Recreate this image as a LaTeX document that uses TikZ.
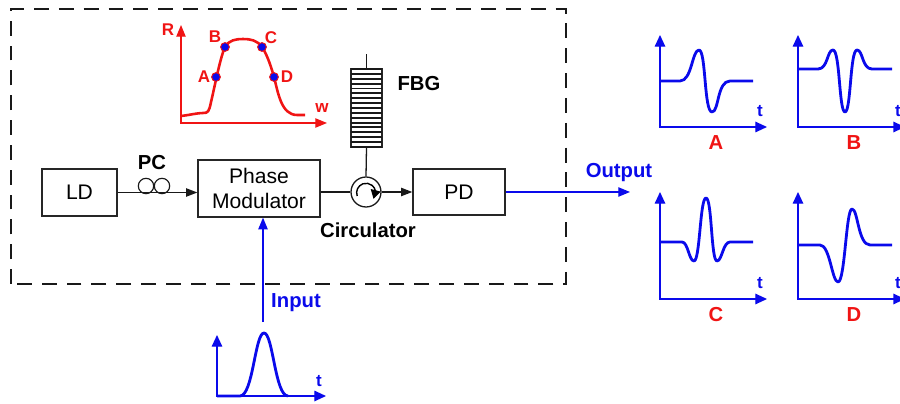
\documentclass[tikz,border=0pt]{standalone}
\usepackage{fontspec}
\setmainfont{Liberation Sans}
\usetikzlibrary{arrows.meta}
\definecolor{sigblue}{RGB}{10,10,235}
\definecolor{plotred}{RGB}{240,20,20}
\begin{document}
\begin{tikzpicture}[
    x=0.03cm, y=-0.03cm,
    boxnode/.style={draw=black!85, line width=1.1pt, rectangle, inner sep=0pt, font=\fontsize{18}{21.5}\selectfont, align=center},
    boldlabel/.style={font=\fontsize{17.3}{20}\selectfont\bfseries, inner sep=0pt},
    smalllabel/.style={font=\fontsize{14.5}{16}\selectfont\bfseries, inner sep=0pt},
    fiber/.style={draw=black!90, line width=1.1pt},
    fiberarr/.style={fiber, -{Triangle[length=9.5pt,width=7pt]}},
    sigline/.style={draw=sigblue, line width=1.1pt},
    sigarr/.style={sigline, -{Triangle[length=10pt,width=8pt]}},
    waveaxis/.style={draw=sigblue, line width=1.2pt, {Triangle[length=10pt,width=9pt]}-{Triangle[length=10pt,width=9pt]}},
    wave/.style={draw=sigblue, line width=2.4pt, line join=round},
    redaxis/.style={draw=plotred, line width=1pt, {Triangle[length=10pt,width=8pt]}-{Triangle[length=10pt,width=8pt]}},
    gratdot/.style={circle, draw=plotred, fill=sigblue, line width=0.8pt, minimum size=7.5pt, inner sep=0pt}
]
    \useasboundingbox (0,0) rectangle (900,404);

    % dashed enclosure
    \draw[black!90, line width=1.9pt, dash pattern=on 12.7pt off 8.5pt] (11,284) -- (11,9) -- (566,9) -- (566,284) -- cycle;

    % setup blocks
    \node[boxnode, minimum width=2.25cm, minimum height=1.41cm] (ld) at (79.5,192.5) {LD};
    \node[boxnode, minimum width=3.66cm, minimum height=1.71cm] (pm) at (259,188.5) {Phase\\Modulator};
    \node[boxnode, minimum width=2.76cm, minimum height=1.38cm] (pd) at (459,192) {PD};
    \node[draw=black!90, line width=1.1pt, circle, minimum size=0.9cm, inner sep=0pt] (circ) at (366,192) {};
    \node[boxnode, minimum width=0.93cm, minimum height=2.34cm] (fbg) at (366.5,108) {};
    \foreach \g in {0,...,16} \draw[black!90, line width=1.6pt] (351,69+\g*4.87) -- (382,69+\g*4.87);
    \coordinate (fbgend) at (366.5,54);
    \coordinate (outend) at (630,192);
    \coordinate (inbegin) at (263,322);

    % polarization controller
    \node[circle, draw=black!90, line width=1pt, minimum size=0.46cm, inner sep=0pt] (pcl) at (146,186) {};
    \node[circle, draw=black!90, line width=1pt, minimum size=0.46cm, inner sep=0pt] (pcr) at (162,186) {};

    % connectors
    \draw[fiberarr] (ld.east) -- (ld.east -| pm.west);
    \draw[fiber] (pm.east |- circ) -- (circ.west);
    \draw[fiberarr] (circ.east) -- (circ -| pd.west);
    \draw[fiber] (circ.north) -- (fbg.south);
    \draw[fiber] (fbg.north) -- (fbgend);
    \draw[sigarr] (pd.east) -- (outend);
    \draw[sigarr] (inbegin) -- (inbegin |- pm.south);
    \draw[black, line width=1.2pt, -{Triangle[length=7.5pt,width=8.5pt]}] (357.2,196) arc[start angle=160, end angle=350, radius=9.5] -- (373.5,198.8);

    \node[boldlabel] (pclabel) at (152,163) {PC};
    \node[boldlabel] (fbglabel) at (419,84) {FBG};
    \node[boldlabel] (circlabel) at (368,230) {Circulator};
    \node[boldlabel, text=sigblue] (outlabel) at (619,173) {Output};
    \node[boldlabel, text=sigblue] (inlabel) at (296,303) {Input};

    % reflection spectrum
    \coordinate (rorg) at (181,123);
    \draw[redaxis] (rorg |- 0,25) -- (rorg) -- (327,123);
    \draw[plotred, line width=2.2pt, line join=round] (181,116) .. controls (190,115) and (197,113) .. (203,113) .. controls (208,113) and (209,112) .. (211,102)
        .. controls (214,90) and (220,58) .. (225,47) .. controls (229,40) and (236,39) .. (243,39) .. controls (250,39) and (257,40) .. (262,47)
        .. controls (268,56) and (272,70) .. (274,77) .. controls (278,92) and (281,115) .. (297,115) -- (305,115);
    \foreach \n/\px/\py in {a/216/77, b/225/47, c/262/47, d/274/77} \node[gratdot] (dot\n) at (\px,\py) {};
    \node[smalllabel, text=plotred] (rlabel) at (168,30) {R};
    \node[smalllabel, text=plotred] (wlabel) at (322,108) {w};
    \node[smalllabel, text=plotred] (alabel) at (204,77) {A};
    \node[smalllabel, text=plotred] (blabel) at (215,37) {B};
    \node[smalllabel, text=plotred] (clabel) at (271,38) {C};
    \node[smalllabel, text=plotred] (dlabel) at (287,77) {D};

    % output waveform axes
    \foreach \ox/\oy/\ty/\nm/\lx/\ly in {660/127/35/A/716/143, 798/127/35/B/854/143, 660/299/192/C/716/315, 798/299/192/D/854/315} {
        \draw[waveaxis] (\ox,\ty) -- (\ox,\oy) -- (\ox+107,\oy);
        \node[smalllabel, text=sigblue] (t\nm) at (\ox+100,\oy-16) {t};
        \node[boldlabel, text=plotred] (name\nm) at (\lx,\ly) {\nm};
    }
    \draw[wave] (660,81) -- (680,81) .. controls (692,81) and (692,50) .. (699,50) .. controls (706,50) and (704,112) .. (712,112) .. controls (719,112) and (717,81) .. (730,81) -- (753,81);
    \draw[wave] (798,69) -- (818,69) .. controls (828,69) and (827,50) .. (833,50) .. controls (840,50) and (839,112) .. (845,112) .. controls (851,112) and (850,50) .. (857,50) .. controls (863,50) and (862,69) .. (872,69) -- (892,69);
    \draw[wave] (660,242) -- (682,242) .. controls (688,242) and (689,261) .. (694,261) .. controls (700,261) and (700,198) .. (706,198) .. controls (712,198) and (711,261) .. (717,261) .. controls (722,261) and (723,242) .. (730,242) -- (753,242);
    \draw[wave] (798,245) -- (820,245) .. controls (830,245) and (832,282) .. (838,282) .. controls (845,282) and (846,209) .. (852,209) .. controls (858,209) and (858,245) .. (870,245) -- (892,245);

    % input pulse
    \draw[waveaxis] (217,335) -- (217,396) -- (326,396);
    \draw[wave] (217,396) -- (240,396) .. controls (253,396) and (255,333) .. (264,333) .. controls (273,333) and (275,396) .. (288,396);
    \node[smalllabel, text=sigblue] (tinput) at (319,381) {t};
\end{tikzpicture}
\end{document}
